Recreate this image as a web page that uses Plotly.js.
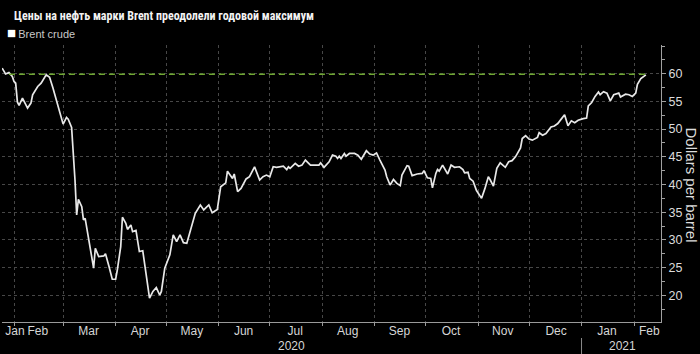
<!DOCTYPE html>
<html><head><meta charset="utf-8">
<script src="https://cdn.plot.ly/plotly-3.0.1.min.js"></script>
<style>html,body{margin:0;padding:0;background:#000;}#chart{width:700px;height:354px;}</style>
</head><body><div id="chart"></div>
<script>
const titleText = 'Цены на нефть марки Brent преодолели годовой максимум';
const seriesName = 'Brent crude';
const yTitle = 'Dollars per barrel';

const dates = [
'2020-01-25','2020-01-27','2020-01-29','2020-01-31','2020-02-01','2020-02-02','2020-02-03','2020-02-04','2020-02-06','2020-02-07','2020-02-09','2020-02-11','2020-02-12','2020-02-15','2020-02-17','2020-02-20','2020-02-22','2020-02-24','2020-02-26','2020-02-28',
'2020-03-01','2020-03-03','2020-03-04','2020-03-06','2020-03-07','2020-03-08','2020-03-09','2020-03-10','2020-03-12','2020-03-13','2020-03-14','2020-03-16','2020-03-17','2020-03-19','2020-03-20','2020-03-22','2020-03-25','2020-03-26','2020-03-28','2020-03-30',
'2020-04-01','2020-04-02','2020-04-04','2020-04-05','2020-04-07','2020-04-08','2020-04-10','2020-04-11','2020-04-13','2020-04-15','2020-04-17','2020-04-18','2020-04-20','2020-04-21','2020-04-23','2020-04-25','2020-04-27','2020-04-28','2020-04-30',
'2020-05-03','2020-05-05','2020-05-07','2020-05-09','2020-05-11','2020-05-13','2020-05-15','2020-05-18','2020-05-21','2020-05-23','2020-05-26','2020-05-28','2020-05-31',
'2020-06-02','2020-06-05','2020-06-06','2020-06-09','2020-06-10','2020-06-12','2020-06-14','2020-06-17','2020-06-19','2020-06-22','2020-06-25','2020-06-27','2020-06-29',
'2020-07-01','2020-07-03','2020-07-05','2020-07-09','2020-07-11','2020-07-12','2020-07-13','2020-07-16','2020-07-18','2020-07-20','2020-07-22','2020-07-25','2020-07-28','2020-07-30','2020-07-31',
'2020-08-02','2020-08-05','2020-08-07','2020-08-09','2020-08-10','2020-08-11','2020-08-12','2020-08-14','2020-08-15','2020-08-17','2020-08-20','2020-08-22','2020-08-24','2020-08-27','2020-08-29','2020-08-31',
'2020-09-02','2020-09-04','2020-09-07','2020-09-08','2020-09-10','2020-09-12','2020-09-14','2020-09-16','2020-09-17','2020-09-20','2020-09-21','2020-09-23','2020-09-26','2020-09-29','2020-09-30',
'2020-10-02','2020-10-04','2020-10-05','2020-10-07','2020-10-08','2020-10-09','2020-10-11','2020-10-14','2020-10-16','2020-10-18','2020-10-21','2020-10-23','2020-10-24','2020-10-26','2020-10-27','2020-10-29','2020-10-31',
'2020-11-02','2020-11-03','2020-11-05','2020-11-07','2020-11-08','2020-11-10','2020-11-12','2020-11-14','2020-11-17','2020-11-19','2020-11-21','2020-11-23','2020-11-26','2020-11-27','2020-11-29',
'2020-12-01','2020-12-03','2020-12-06','2020-12-07','2020-12-09','2020-12-11','2020-12-14','2020-12-16','2020-12-18','2020-12-20','2020-12-22','2020-12-24','2020-12-26','2020-12-28','2020-12-30',
'2021-01-02','2021-01-04','2021-01-05','2021-01-07','2021-01-09','2021-01-11','2021-01-12','2021-01-14','2021-01-16','2021-01-18','2021-01-20','2021-01-23','2021-01-24','2021-01-27','2021-01-29','2021-01-31',
'2021-02-02','2021-02-03','2021-02-05','2021-02-08'];

const prices = [
61.0,59.95,60.2,59.5,58.6,58.3,54.9,54.3,55.6,54.9,53.8,54.7,56.2,57.7,58.3,59.8,59.35,57.4,55.25,52.9,
50.9,52.1,51.8,50.3,46.2,40.8,34.5,37.3,36.0,33.6,33.9,30.3,28.8,24.9,28.5,27.0,27.1,27.5,25.3,22.9,
22.9,24.6,28.8,34.1,33.0,31.9,32.7,31.5,31.7,27.9,28.05,25.8,22.2,19.5,20.7,21.4,20.05,20.7,24.9,
27.3,30.9,29.7,30.9,29.5,29.4,31.5,34.8,36.3,35.4,36.3,34.9,35.5,
39.6,40.3,42.4,41.1,41.9,38.7,39.3,41.0,41.4,43.2,40.8,41.4,41.7,
41.4,43.2,43.1,43.3,42.7,43.2,42.9,43.8,43.3,43.5,44.4,43.5,43.5,43.5,43.9,
43.1,44.1,45.3,45.1,44.7,45.1,44.7,45.6,45.1,45.6,45.6,45.3,44.55,46.1,45.5,45.3,
45.7,44.4,42.6,41.4,39.9,40.9,40.2,39.8,41.7,43.4,43.3,41.6,41.9,42.0,42.5,
41.2,41.1,39.4,42.0,42.7,42.4,43.5,41.9,43.5,43.1,43.2,42.7,42.1,42.2,41.1,40.6,38.9,
38.1,37.5,39.3,41.4,40.9,39.7,42.9,43.9,43.1,44.1,44.3,45.0,46.6,48.3,48.8,
48.2,48.0,48.5,49.35,48.9,49.2,50.4,50.55,51.0,51.8,52.6,50.6,51.5,51.15,51.6,
51.9,52.0,54.2,54.8,55.9,56.7,56.2,56.75,56.5,55.1,56.2,56.5,55.8,56.3,56.2,55.9,
56.5,58.1,59.1,59.8];

const annualMax = 59.9;
const maxLineDates = ['2020-01-29','2021-02-08'];

const monthStarts = ['2020-02-01','2020-03-01','2020-04-01','2020-05-01','2020-06-01','2020-07-01','2020-08-01','2020-09-01','2020-10-01','2020-11-01','2020-12-01','2021-01-01','2021-02-01'];
const monthLabelDates = ['2020-02-01 14:00','2020-02-15','2020-03-16','2020-04-15 12:00','2020-05-16','2020-06-15 12:00','2020-07-16','2020-08-16','2020-09-15 12:00','2020-10-16','2020-11-15 12:00','2020-12-17','2021-01-16','2021-02-10'];
const monthLabels = ['Jan','Feb','Mar','Apr','May','Jun','Jul','Aug','Sep','Oct','Nov','Dec','Jan','Feb'];
const yearLabels = ['2020','2021'];
const yearLabelDates = ['2020-07-14','2021-01-25'];
const yearBoundary = '2021-01-01';

const xRange = ['2020-01-24 22:00','2021-02-16 22:00'];
const yRange = [15.18, 65.18];
const yTicks = [20,25,30,35,40,45,50,55,60];

const FONT = 'Liberation Sans, Arial, sans-serif';
const TITLE_FONT = 'Liberation Sans Narrow, Roboto Condensed, Liberation Sans, Arial, sans-serif';
const gridColor = '#474747';

const traces = [
  {x: dates, y: prices, type:'scatter', mode:'lines', name: seriesName,
   line:{color:'#e8e8e8', width:1.7}, showlegend:false, hoverinfo:'x+y'},
  {x: maxLineDates, y: [annualMax, annualMax], type:'scatter', mode:'lines', xaxis:'x2',
   line:{color:'#6fa832', width:1.6, dash:'6px,4px'}, showlegend:false, hoverinfo:'skip'}
];

const layout = {
  width:700, height:354,
  paper_bgcolor:'#000', plot_bgcolor:'#000',
  margin:{l:2, r:39, t:45, b:32},
  font:{family:FONT, color:'#d0d0d0', size:12},
  title:{text: titleText, x:14/700, xref:'container', xanchor:'left', y:1-16/354, yref:'container', yanchor:'middle',
         font:{family:TITLE_FONT, size:12, color:'#f2f2f2', weight:'bold'}},
  xaxis:{type:'date', range:xRange, tickvals:monthStarts, showticklabels:false,
         showgrid:true, gridcolor:gridColor, griddash:'dot', gridwidth:1,
         ticks:'outside', ticklen:3, tickcolor:'#9a9a9a',
         showline:true, linecolor:'#9a9a9a', linewidth:1, zeroline:false, fixedrange:true},
  xaxis2:{type:'date', range:xRange, overlaying:'x', anchor:'y', side:'bottom',
          tickvals:monthLabelDates, ticktext:monthLabels, tickangle:0,
          showgrid:false, ticks:'', showline:false, zeroline:false,
          tickfont:{family:FONT, size:12, color:'#d6d6d6'}},
  yaxis:{range:yRange, side:'right', tickvals:yTicks,
         showgrid:true, gridcolor:gridColor, griddash:'dot', gridwidth:1,
         ticks:'outside', ticklen:4, tickcolor:'#a0a0a0',
         minor:{dtick:2.5, ticks:'outside', ticklen:3, tickcolor:'#a0a0a0', showgrid:false},
         showline:true, linecolor:'#a0a0a0', linewidth:1, zeroline:false,
         tickfont:{family:FONT, size:12.5, color:'#dcdcdc'}},
  annotations:[
    {text:'<span style="color:#ffffff;font-size:15px">■</span>\u2009' + seriesName, xref:'paper', yref:'paper',
     x:(5-2)/659, y:(322-32)/277, xanchor:'left', yanchor:'middle', showarrow:false,
     font:{family:FONT, size:11, color:'#c8c8c8'}},
    {text:yTitle, xref:'paper', yref:'paper', x:(691-2)/659, y:(322-184.5)/277,
     xanchor:'center', yanchor:'middle', textangle:90, showarrow:false,
     font:{family:FONT, size:15, color:'#dcdcdc'}},
    {text:yearLabels[0], xref:'x', yref:'paper', x:yearLabelDates[0], y:(322-346)/277,
     xanchor:'center', yanchor:'middle', showarrow:false, font:{family:FONT, size:12, color:'#d6d6d6'}},
    {text:yearLabels[1], xref:'x', yref:'paper', x:yearLabelDates[1], y:(322-346)/277,
     xanchor:'center', yanchor:'middle', showarrow:false, font:{family:FONT, size:12, color:'#d6d6d6'}}
  ],
  shapes:[
    {type:'line', xref:'x', yref:'paper', x0:yearBoundary, x1:yearBoundary,
     y0:(322-338)/277, y1:(322-354)/277, line:{color:'#8a8a8a', width:1}}
  ]
};

Plotly.newPlot('chart', traces, layout, {displayModeBar:false, staticPlot:true});
</script>
</body></html>
